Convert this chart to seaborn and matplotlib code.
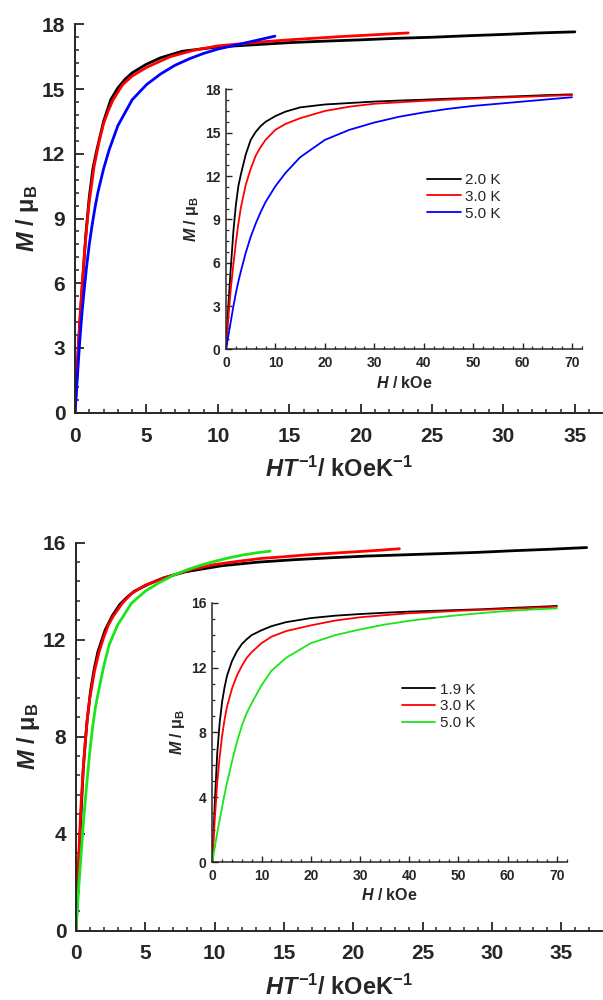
import numpy as np
import pandas as pd
import matplotlib
matplotlib.use("Agg")
import matplotlib.pyplot as plt
import seaborn as sns
from matplotlib.ticker import MultipleLocator

# ---------------- data ----------------
H_kOe = [0, 0.5, 1, 1.5, 2, 2.5, 3, 4, 5, 6, 7, 8, 10, 12, 15, 20, 25, 30,
         35, 40, 45, 50, 55, 60, 65, 70]

# top compound
top_temps = [2.0, 3.0, 5.0]
top_labels = ["2.0 K", "3.0 K", "5.0 K"]
top_M_2K = [0, 3.2, 5.8, 8.2, 10.0, 11.3, 12.1, 13.5, 14.5, 15.05, 15.45,
            15.75, 16.15, 16.45, 16.75, 16.95, 17.05, 17.15, 17.22, 17.28,
            17.35, 17.4, 17.47, 17.53, 17.6, 17.65]
top_M_3K = [0, 2.3, 4.3, 5.9, 7.4, 8.7, 9.8, 11.4, 12.5, 13.4, 14.0, 14.5,
            15.2, 15.6, 16.0, 16.5, 16.8, 17.0, 17.1, 17.2, 17.28, 17.35,
            17.42, 17.48, 17.54, 17.6]
top_M_5K = [0, 1.0, 2.0, 3.0, 3.9, 4.7, 5.4, 6.7, 7.8, 8.7, 9.5, 10.2, 11.3,
            12.2, 13.3, 14.5, 15.2, 15.7, 16.1, 16.4, 16.65, 16.85, 17.0,
            17.15, 17.3, 17.45]
top_colors = ["#000000", "#ff0000", "#0000ff"]

# bottom compound
bot_temps = [1.9, 3.0, 5.0]
bot_labels = ["1.9 K", "3.0 K", "5.0 K"]
bot_M_19K = [0, 3.6, 6.7, 8.6, 9.9, 10.8, 11.5, 12.4, 13.0, 13.45, 13.75,
             14.0, 14.3, 14.55, 14.8, 15.05, 15.2, 15.3, 15.38, 15.45, 15.5,
             15.55, 15.6, 15.67, 15.73, 15.8]
bot_M_3K = [0, 2.6, 4.9, 6.5, 7.8, 8.8, 9.6, 10.7, 11.5, 12.1, 12.6, 12.95,
            13.5, 13.9, 14.25, 14.6, 14.9, 15.1, 15.23, 15.35, 15.42, 15.5,
            15.56, 15.62, 15.68, 15.75]
bot_M_5K = [0, 0.9, 1.8, 2.6, 3.4, 4.2, 4.9, 6.2, 7.4, 8.4, 9.2, 9.8, 10.9,
            11.8, 12.6, 13.5, 14.0, 14.35, 14.65, 14.88, 15.07, 15.23, 15.37,
            15.49, 15.58, 15.65]
bot_colors = ["#000000", "#ff0000", "#19e619"]

# ---------------- style ----------------
sns.set_style("ticks")
plt.rcParams["font.family"] = ["Liberation Sans", "DejaVu Sans"]
plt.rcParams["mathtext.fontset"] = "custom"
plt.rcParams["mathtext.rm"] = "Liberation Sans:bold"
plt.rcParams["mathtext.it"] = "Liberation Sans:italic:bold"
plt.rcParams["mathtext.bf"] = "Liberation Sans:bold"


def make_df(temps, labels, series):
    rows = []
    for T, lab, M in zip(temps, labels, series):
        for h, m in zip(H_kOe, M):
            rows.append({"T": lab, "H": h, "HT": h / T, "M": m})
    return pd.DataFrame(rows)


def style_axes(ax, main):
    for s in ["top", "right"]:
        ax.spines[s].set_visible(False)
    lw = 1.4 if main else 1.1
    for s in ["left", "bottom"]:
        ax.spines[s].set_linewidth(lw)
    if main:
        ax.tick_params(which="major", direction="in", length=6.5, width=1.3,
                       labelsize=15, pad=7)
        ax.tick_params(axis="x", which="major", pad=10)
        ax.tick_params(which="minor", direction="in", length=3.2, width=1.1)
    else:
        ax.tick_params(which="major", direction="in", length=4, width=1.0,
                       labelsize=10, pad=4)
        ax.tick_params(axis="x", which="major", pad=5)
        ax.tick_params(which="minor", direction="in", length=2.2, width=0.9)
    for lab in ax.get_xticklabels() + ax.get_yticklabels():
        lab.set_fontweight("bold")


def draw_panel(fig, rect_main, rect_inset, df, labels, colors, ymax, ymaj,
               ymin_main, ymin_in, xmax_main, legend_anchor):
    pal = dict(zip(labels, colors))
    ax = fig.add_axes(rect_main)
    sns.lineplot(data=df, x="HT", y="M", hue="T", palette=pal, ax=ax,
                 sort=False, estimator=None, legend=False, linewidth=2.0)
    ax.set_xlim(0, xmax_main)
    ax.set_ylim(0, ymax)
    ax.xaxis.set_major_locator(MultipleLocator(5))
    ax.xaxis.set_minor_locator(MultipleLocator(1))
    ax.yaxis.set_major_locator(MultipleLocator(ymaj))
    ax.yaxis.set_minor_locator(MultipleLocator(ymin_main))
    ax.set_xlabel(r"$HT^{\mathrm{-1}}$/ kOeK$^{\mathrm{-1}}$", fontsize=17,
                  fontweight="bold", labelpad=8)
    ax.set_ylabel(r"$M$ / $\mathrm{\mu_B}$", fontsize=17, fontweight="bold",
                  labelpad=1)
    style_axes(ax, True)

    axi = fig.add_axes(rect_inset)
    sns.lineplot(data=df, x="H", y="M", hue="T", palette=pal, ax=axi,
                 sort=False, estimator=None, linewidth=1.3)
    axi.set_xlim(0, 72)
    axi.set_ylim(0, ymax)
    axi.xaxis.set_major_locator(MultipleLocator(10))
    axi.xaxis.set_minor_locator(MultipleLocator(2))
    axi.yaxis.set_major_locator(MultipleLocator(ymaj))
    axi.yaxis.set_minor_locator(MultipleLocator(ymin_in))
    axi.set_xlabel(r"$H$ / kOe", fontsize=11.5, fontweight="bold", labelpad=3)
    axi.set_ylabel(r"$M$ / $\mathrm{\mu_B}$", fontsize=11.5, fontweight="bold",
                   labelpad=3)
    style_axes(axi, False)
    leg = axi.legend(loc="upper left", bbox_to_anchor=legend_anchor,
                     bbox_transform=fig.transFigure, frameon=False,
                     fontsize=11, handlelength=2.2, handletextpad=0.3,
                     labelspacing=0.18, borderpad=0, borderaxespad=0)
    for line in leg.get_lines():
        line.set_linewidth(1.3)
    axi.patch.set_alpha(0)
    return ax, axi


fig = plt.figure(figsize=(6.03, 10.0), dpi=100)

df_top = make_df(top_temps, top_labels, [top_M_2K, top_M_3K, top_M_5K])
df_bot = make_df(bot_temps, bot_labels, [bot_M_19K, bot_M_3K, bot_M_5K])

W, Hh = 603.0, 1000.0
# top panel
rect_main_top = [75 / W, 1 - 412.7 / Hh, (602 - 75) / W, (412.7 - 24.3) / Hh]
rect_in_top = [226 / W, 1 - 349.5 / Hh, (581.9 - 226) / W, (349.5 - 89.3) / Hh]
draw_panel(fig, rect_main_top, rect_in_top, df_top, top_labels, top_colors,
           18, 3, 0.6, 0.75, 36.9, (427 / W, 1 - 173 / Hh))

# bottom panel
rect_main_bot = [76 / W, 1 - 930.5 / Hh, (602 - 76) / W, (930.5 - 542.7) / Hh]
rect_in_bot = [212.3 / W, 1 - 862 / Hh, (566.7 - 212.3) / W, (862 - 602.7) / Hh]
draw_panel(fig, rect_main_bot, rect_in_bot, df_bot, bot_labels, bot_colors,
           16, 4, 0.8, 1.0, 37.95, (401.7 / W, 1 - 682.5 / Hh))

fig.savefig("out.png", dpi=100)
